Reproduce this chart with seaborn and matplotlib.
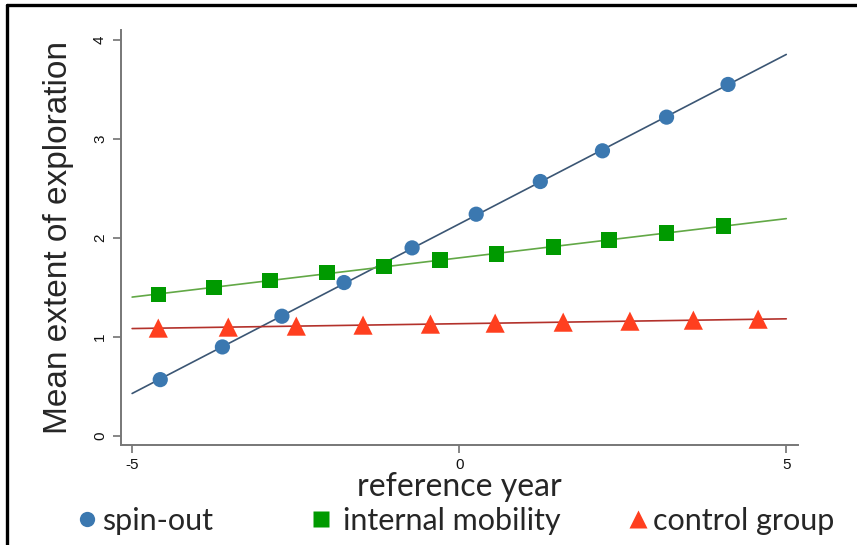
import numpy as np
import pandas as pd
import seaborn as sns
import matplotlib.pyplot as plt
from matplotlib.lines import Line2D

# values
spin_x = [-4.57, -3.62, -2.71, -1.76, -0.72, 0.26, 1.24, 2.19, 3.17, 4.11]
spin_y = [0.57, 0.90, 1.21, 1.55, 1.90, 2.24, 2.57, 2.88, 3.22, 3.55]

mob_x = [-4.60, -3.75, -2.89, -2.02, -1.15, -0.29, 0.57, 1.44, 2.29, 3.17, 4.04]
mob_y = [1.43, 1.50, 1.57, 1.65, 1.71, 1.78, 1.84, 1.91, 1.98, 2.05, 2.12]

ctrl_x = [-4.60, -3.53, -2.49, -1.47, -0.44, 0.55, 1.59, 2.61, 3.58, 4.57]
ctrl_y = [1.09, 1.10, 1.11, 1.12, 1.13, 1.14, 1.15, 1.16, 1.17, 1.18]

labels = ['spin-out', 'internal mobility', 'control group']
x_ticks = [-5, 0, 5]
y_ticks = [0, 1, 2, 3, 4]

sns.set_style('ticks')
plt.rcParams['font.family'] = ['Liberation Sans', 'DejaVu Sans']
narrow = ['Lato', 'Liberation Sans', 'DejaVu Sans']

groups = [
    # x, y, marker, size, marker colour, line colour
    (spin_x, spin_y, 'o', 120, '#3b78b0', '#3b5674'),
    (mob_x, mob_y, 's', 125, '#009a00', '#62a846'),
    (ctrl_x, ctrl_y, '^', 190, '#ff3f1f', '#b3312b'),
]

fig = plt.figure(figsize=(8.57, 5.45), dpi=100)
ax = fig.add_axes([0.1412, 0.1835, 0.790, 0.7615])

# fitted lines span -5..5
ax.set_xlim(-5, 5)
for gx, gy, m, s, mc, lc in groups:
    df = pd.DataFrame({'x': gx, 'y': gy})
    sns.regplot(data=df, x='x', y='y', ax=ax, scatter=False, ci=None,
                truncate=False, color=lc, line_kws={'lw': 1.2, 'zorder': 2})

handles = []
for (gx, gy, m, s, mc, lc), lab in zip(groups, labels):
    df = pd.DataFrame({'x': gx, 'y': gy})
    sns.scatterplot(data=df, x='x', y='y', ax=ax, marker=m, s=s, color=mc,
                    edgecolor='none', linewidth=0, zorder=3)
    handles.append(Line2D([], [], marker=m, ls='none', color=mc,
                          markersize=11 if m != '^' else 13, mec='none'))

ax.set_xlim(-5.17, 5.18)
ax.set_ylim(-0.09, 4.10)
ax.set_xticks(x_ticks)
ax.set_yticks(y_ticks)
ax.set_xticklabels([str(v) for v in x_ticks])
ax.set_yticklabels([str(v) for v in y_ticks], rotation=90, va='center')
ax.tick_params(axis='both', length=6, width=1.1, color='#666666',
               labelsize=11, labelcolor='#111111')
ax.tick_params(axis='y', pad=4)
for side in ['left', 'bottom']:
    ax.spines[side].set_color('#777777')
    ax.spines[side].set_linewidth(1.4)
sns.despine(ax=ax)

ax.set_ylabel('Mean extent of exploration', fontsize=24, labelpad=14)
ax.set_xlabel('reference year', fontsize=23, family=narrow, labelpad=0)

# legend row below the axes, one entry per legend so each sits where it should
anchors = [0.0893, 0.3623, 0.7322]
pads = [0.15, 0.35, 0.12]
for h, lab, xa, pad in zip(handles, labels, anchors, pads):
    fig.legend([h], [lab], loc='center left', bbox_to_anchor=(xa, 0.044),
               frameon=False, borderpad=0, borderaxespad=0,
               handletextpad=pad, handlelength=0.7,
               prop={'family': narrow, 'size': 22})

# outer frame, top and left only
fig.add_artist(Line2D([0.0085, 1.0], [0.9905, 0.9905], color='black', lw=2.4,
                      transform=fig.transFigure))
fig.add_artist(Line2D([0.0085, 0.0085], [0.0, 0.9905], color='black', lw=2.4,
                      transform=fig.transFigure))

fig.savefig('out.png', dpi=100)
